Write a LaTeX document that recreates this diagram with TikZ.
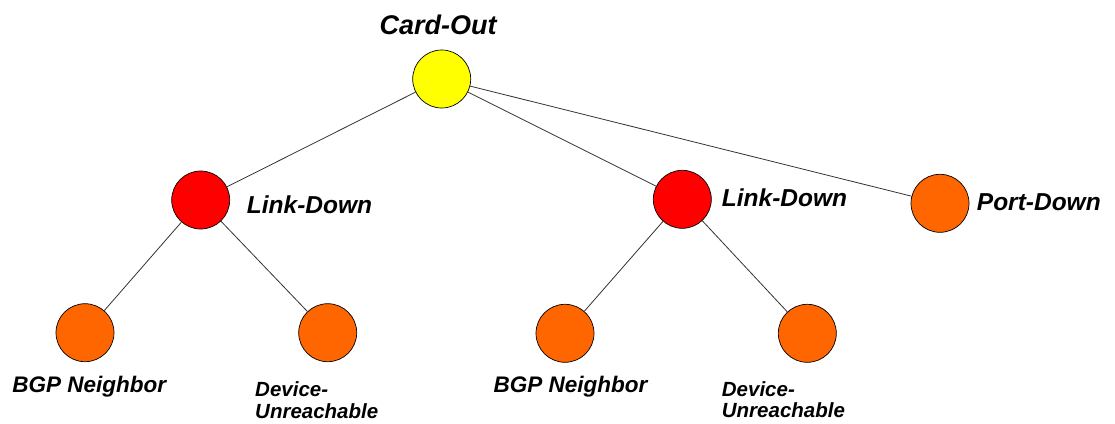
\documentclass[tikz,border=0pt]{standalone}
\usepackage{fontspec}
\setmainfont{Liberation Sans}
\definecolor{cyel}{HTML}{FFFF00}
\definecolor{cred}{HTML}{FF0000}
\definecolor{corg}{HTML}{FF6600}
\tikzset{
  ball/.style={circle, draw=black, line width=0.7pt, minimum size=58pt, inner sep=0pt},
  edge/.style={draw=black!80, line width=0.8pt},
  lbl/.style={inner sep=0pt, font=\bfseries\itshape},
}
\begin{document}
\begin{tikzpicture}[x=1pt,y=-1pt]
\useasboundingbox (0,0) rectangle (1115,423);
% nodes
\node[ball, fill=cyel] (co) at (441.7,79) {};
\node[ball, fill=cred] (ldl) at (200.7,200) {};
\node[ball, fill=cred] (ldr) at (682.3,199.3) {};
\node[ball, fill=corg] (pd) at (940,203.3) {};
\node[ball, fill=corg] (bgl) at (85,332.7) {};
\node[ball, fill=corg] (dvl) at (327.7,332.7) {};
\node[ball, fill=corg] (bgr) at (565,333.3) {};
\node[ball, fill=corg] (dvr) at (807.3,333.3) {};
% edges
\draw[edge] (co) -- (ldl);
\draw[edge] (co) -- (ldr);
\draw[edge] (co) -- (pd);
\draw[edge] (ldl) -- (bgl);
\draw[edge] (ldl) -- (dvl);
\draw[edge] (ldr) -- (bgr);
\draw[edge] (ldr) -- (dvr);
% labels
\node[lbl, font=\bfseries\itshape\fontsize{27}{32}\selectfont] (tco) at (438,25) {Card-Out};
\node[lbl, anchor=west, font=\bfseries\itshape\fontsize{24.5}{29}\selectfont] (tldl) at (246.7,205) {Link-Down};
\node[lbl, anchor=west, font=\bfseries\itshape\fontsize{24.5}{29}\selectfont] (tldr) at (721.7,198) {Link-Down};
\node[lbl, anchor=west, font=\bfseries\itshape\fontsize{24.5}{29}\selectfont] (tpd) at (976.7,202) {Port-Down};
\node[lbl, font=\bfseries\itshape\fontsize{22.5}{27}\selectfont] (tbgl) at (89.3,387) {BGP Neighbor};
\node[lbl, font=\bfseries\itshape\fontsize{22.5}{27}\selectfont] (tbgr) at (570.5,387) {BGP Neighbor};
\node[lbl, anchor=north west, align=left, font=\bfseries\itshape\fontsize{20.5}{21.5}\selectfont] (tdvl) at (255,381.7) {Device-\\Unreachable};
\node[lbl, anchor=north west, align=left, font=\bfseries\itshape\fontsize{20.5}{21.5}\selectfont] (tdvr) at (721.7,381) {Device-\\Unreachable};
\end{tikzpicture}
\end{document}
